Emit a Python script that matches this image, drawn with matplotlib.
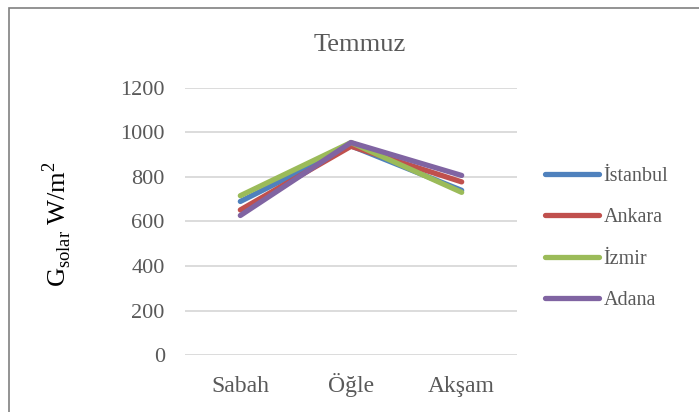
import matplotlib
matplotlib.use("Agg")
import matplotlib.pyplot as plt
from matplotlib.patches import Rectangle

categories = ["Sabah", "Öğle", "Akşam"]
series_names = ["İstanbul", "Ankara", "İzmir", "Adana"]
istanbul = [690, 940, 740]
ankara = [652, 938, 778]
izmir = [716, 955, 731]
adana = [627, 955, 807]
yticks = [0, 200, 400, 600, 800, 1000, 1200]

colors = ["#4F81BD", "#C0504D", "#9BBB59", "#8064A2"]
W, H = 699, 412
fig = plt.figure(figsize=(W/100, H/100), dpi=100)
plt.rcParams['font.family'] = ['Liberation Serif', 'DejaVu Serif']
txt = "#595959"

x0, x1 = 185, 517
y0, y1 = 355, 88
ax = fig.add_axes([x0/W, 1 - y0/H, (x1-x0)/W, (y0-y1)/H])
xs = list(range(len(categories)))
for name, vals, c in zip(series_names, [istanbul, ankara, izmir, adana], colors):
    ax.plot(xs, vals, color=c, lw=3.8, solid_capstyle='round', label=name)
ax.set_xlim(-0.5, 2.5)
ax.set_ylim(0, 1200)
ax.set_yticks(yticks)
ax.set_yticklabels([str(v) for v in yticks], fontsize=16)
ax.set_xticks(xs)
ax.set_xticklabels(categories, fontsize=17, va='baseline')
ax.grid(axis='y', color='#D9D9D9', lw=1.3)
ax.set_axisbelow(True)
for s in ax.spines.values():
    s.set_visible(False)
ax.tick_params(length=0, colors=txt)
ax.tick_params(axis='y', pad=14.5)
ax.tick_params(axis='x', pad=26.5)

fig.text(360/W, 1 - 45/H, "Temmuz", ha='center', va='center', fontsize=19, color=txt)
fig.text(57/W, 1 - 224/H, r"G$_{\mathregular{solar}}$ W/m$^{\mathregular{2}}$", rotation=90,
         ha='center', va='center', fontsize=19, color='black')

leg = fig.legend(loc='upper left', bbox_to_anchor=(537/W, 1 - 159/H), frameon=False,
                 fontsize=14.5, handlelength=2.7, handletextpad=0.2, labelspacing=1.1,
                 borderaxespad=0)
for t in leg.get_texts():
    t.set_color(txt)

fig.patches.append(Rectangle((9/W, -0.1), 1.2, 1 - 8/H + 0.1, transform=fig.transFigure,
                             fill=False, edgecolor='#808080', lw=1.2))
fig.savefig("out.png", dpi=100)
